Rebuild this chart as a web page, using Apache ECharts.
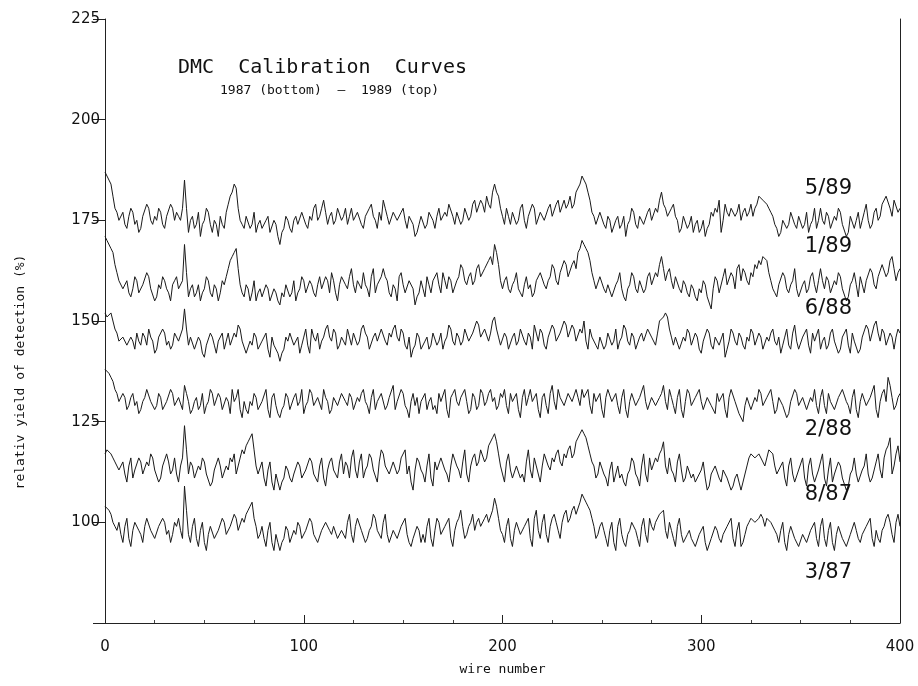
<!DOCTYPE html>
<html>
<head>
<meta charset="utf-8">
<script src="https://cdn.jsdelivr.net/npm/echarts@6/dist/echarts.min.js"></script>
<style>
html,body{margin:0;padding:0;background:#fff;}
#chart{width:918px;height:686px;}
</style>
</head>
<body>
<div id="chart"></div>
<script>
// one value per wire, wires 0..400
var yTicks = [100, 125, 150, 175, 200, 225];
var xTicks = [0, 100, 200, 300, 400];

var curveNames = ["5/89", "1/89", "6/88", "2/88", "8/87", "3/87"];
// where each curve name is written [wire, value]
var namePos = [[364, 183], [364, 168.5], [364, 153], [364, 123], [364, 107], [364, 87.5]];

var may89 = [
	187,186,185,184,181,178,177,175,175,177,174,173,176,178,177,174,175,172,173,176,176,179,178,175,174,176,175,178,177,174,173,176,176,179,178,175,177,176,175,178,
	185,178,172,175,176,173,174,177,171,174,175,178,177,174,172,175,174,171,176,174,173,177,179,181,182,184,183,178,175,174,173,176,176,173,174,177,172,174,175,173,
	173,175,176,172,172,175,174,171,169,172,173,176,175,173,172,175,176,174,174,177,177,174,173,176,175,178,179,175,176,178,180,177,174,176,177,174,175,178,178,175,
	176,178,174,176,178,175,175,177,177,174,173,176,176,178,179,176,175,173,177,175,180,178,176,174,174,177,177,175,175,177,178,175,173,176,176,174,171,172,174,176,
	176,173,174,177,177,175,173,176,178,175,175,177,176,179,179,176,174,177,177,174,175,178,178,175,176,179,180,177,177,180,179,177,181,179,178,182,184,182,181,178,
	176,174,178,176,174,177,177,174,175,178,179,175,173,176,176,179,178,174,174,177,177,175,175,178,179,176,176,179,180,177,177,180,178,179,181,178,179,182,182,184,
	186,185,184,182,180,177,176,174,174,177,177,174,173,176,175,172,172,175,176,173,174,176,171,174,175,178,177,174,173,176,176,174,174,177,178,175,175,178,177,180,
	182,179,178,176,176,178,179,176,175,172,173,176,176,173,174,176,172,174,175,172,173,175,171,173,174,177,176,178,177,180,172,175,179,177,176,178,178,176,177,179,
	175,177,178,176,177,179,176,178,179,181,181,180,180,179,178,177,176,174,173,171,172,175,175,173,174,177,177,174,173,176,176,173,174,177,172,174,175,178,173,175,
	178,175,174,177,176,173,173,176,175,178,177,174,174,171,172,176,176,173,175,177,173,175,177,179,175,173,174,177,178,175,176,179,179,181,181,178,176,180,180,177,
	178
];
var jan89 = [
	171,170,170,168,167,164,162,160,160,158,158,160,157,156,158,161,160,157,157,159,159,162,161,158,158,155,156,159,158,161,160,158,157,155,159,160,161,158,158,160,
	169,162,156,158,159,156,157,159,155,157,158,161,160,157,156,159,158,155,157,160,159,161,163,165,166,167,168,163,159,157,156,159,158,155,157,160,155,157,158,156,
	156,159,158,155,155,158,157,155,154,157,156,159,159,156,157,160,155,157,158,161,160,157,157,160,159,157,156,159,161,158,158,161,160,157,162,160,157,155,159,161,
	161,159,158,161,163,159,157,160,160,158,162,159,158,156,161,163,157,159,159,161,163,161,160,157,156,159,158,155,161,162,159,157,157,160,160,158,154,156,157,160,
	158,156,161,159,157,160,160,162,159,157,162,160,158,161,160,157,157,160,161,164,163,160,159,161,162,159,160,163,164,161,161,163,163,165,166,164,169,167,164,160,
	158,160,161,158,157,159,160,162,158,157,156,159,161,158,159,156,157,160,160,162,162,159,158,160,161,164,163,160,159,162,162,165,164,161,161,164,165,163,167,168,
	170,169,168,167,165,162,160,158,158,161,161,158,157,159,159,156,156,159,160,162,158,156,155,158,159,162,161,158,157,160,160,157,158,161,162,159,159,162,161,164,
	166,163,160,162,163,160,158,161,161,158,157,160,159,157,156,159,158,156,155,158,157,160,159,156,156,153,158,161,160,157,157,161,163,159,159,162,161,158,163,164,
	160,163,162,160,159,162,161,164,163,165,164,166,166,165,162,160,158,157,156,159,159,162,161,158,157,159,160,163,158,156,156,159,160,157,158,161,162,159,157,160,
	163,160,158,161,160,157,157,160,159,162,161,158,158,155,156,159,160,162,159,156,161,159,157,160,160,163,162,159,158,161,161,164,164,161,162,165,166,163,160,162,
	163
];
var jun88 = [
	152,151,151,152,150,148,147,145,145,146,146,144,144,146,145,143,147,145,144,147,146,144,148,146,145,142,143,146,146,148,147,144,145,143,144,147,147,145,145,148,
	153,148,144,146,146,143,143,146,145,142,141,144,144,147,146,144,142,145,145,147,143,145,147,144,144,147,146,149,148,145,145,142,142,145,144,147,146,143,143,145,
	145,147,143,141,146,144,144,142,140,142,143,146,145,147,147,144,144,146,142,144,146,148,144,142,148,146,145,147,143,145,146,148,149,146,145,148,147,143,144,146,
	146,144,148,146,144,147,147,144,145,148,149,147,146,143,143,146,147,145,145,148,148,145,144,147,146,148,149,146,145,148,147,144,143,146,141,143,144,147,146,143,
	143,145,146,143,144,147,147,144,145,147,143,145,146,149,148,145,144,147,146,144,145,148,148,145,146,147,147,150,149,146,146,148,148,145,147,150,151,148,146,144,
	144,147,146,143,143,146,147,144,145,148,148,145,144,147,146,143,149,147,145,148,147,144,143,146,146,149,148,145,145,147,147,150,149,146,146,149,148,145,145,148,
	147,150,145,143,148,146,146,144,143,146,146,143,144,147,147,144,145,148,143,145,146,149,148,145,144,147,146,143,143,146,147,145,145,148,148,146,146,144,147,150,
	150,151,152,151,148,146,144,146,146,143,143,146,145,148,147,144,144,147,146,143,142,145,145,148,147,144,143,146,146,144,144,147,141,143,145,148,147,145,144,147,
	146,144,143,146,145,148,147,144,144,147,146,143,143,146,145,147,148,145,144,146,142,144,146,148,144,143,147,149,145,143,143,146,146,148,144,142,147,145,145,148,
	143,145,146,143,144,147,148,145,145,142,143,146,146,148,144,142,147,145,145,142,143,146,146,149,148,145,147,149,150,147,145,148,147,144,144,147,146,143,146,148,
	147
];
var feb88 = [
	138,138,137,136,135,133,132,130,130,132,131,128,129,131,132,129,130,127,128,130,131,133,133,130,130,128,129,132,131,128,128,130,130,133,132,129,129,131,131,128,
	134,132,130,127,128,130,131,128,129,132,127,129,130,133,132,129,129,132,131,128,128,131,130,127,133,130,131,133,128,126,130,128,127,130,129,132,131,128,128,130,
	130,133,128,126,131,132,129,127,126,128,129,132,131,128,128,131,132,129,130,133,127,129,130,133,132,129,129,131,131,128,133,131,130,127,128,131,131,129,129,132,
	132,130,129,132,131,128,128,131,130,132,133,130,129,127,131,133,128,130,130,132,132,128,129,131,131,134,128,130,130,133,132,129,128,126,130,132,129,131,127,130,
	130,132,128,130,131,128,129,127,132,130,130,133,128,126,131,132,133,130,129,131,131,133,130,127,128,132,131,128,129,133,132,129,130,132,133,130,131,128,129,132,
	131,133,129,127,132,130,130,132,128,126,131,133,129,131,133,130,130,132,128,126,131,132,129,127,132,134,130,128,133,131,131,129,129,132,132,130,130,133,131,129,
	133,131,131,133,129,127,132,130,130,132,128,126,131,133,133,130,130,132,129,127,131,133,128,126,130,132,132,129,129,131,131,134,130,128,128,131,131,129,129,131,
	132,134,130,128,133,131,129,127,131,133,128,126,130,133,132,129,129,131,131,133,130,128,128,131,131,129,129,127,132,130,130,132,128,126,131,133,133,130,130,127,
	127,125,129,131,131,128,128,131,130,133,132,129,129,131,131,133,130,127,128,131,131,129,129,126,127,130,130,133,132,129,129,131,131,128,128,131,130,133,129,127,
	131,133,129,127,132,130,130,128,128,131,131,133,133,130,129,127,131,133,128,126,130,132,132,129,129,131,131,134,128,126,130,132,133,130,136,134,131,128,129,131,
	132
];
var aug87 = [
	117,118,118,117,116,115,114,113,113,115,112,110,114,116,111,113,113,116,115,112,112,115,114,117,116,113,113,110,111,114,114,117,115,112,113,116,112,110,114,116,
	124,118,112,115,114,111,111,114,113,116,115,112,112,109,110,113,113,116,114,111,111,114,113,116,115,117,112,114,114,118,117,119,120,121,122,118,114,112,112,115,
	111,109,113,115,110,108,112,110,108,110,111,114,113,111,110,112,112,115,114,111,111,113,113,116,115,112,112,110,114,116,111,109,113,115,116,113,113,111,115,117,
	112,115,114,111,116,118,113,111,115,117,111,113,114,117,116,113,113,110,115,118,117,114,114,112,112,115,115,112,113,116,116,118,112,114,110,108,113,116,115,113,
	112,110,114,117,111,109,115,113,113,116,116,113,112,110,114,117,117,114,113,111,115,118,112,110,114,116,117,114,115,118,118,115,116,119,119,121,122,120,117,114,
	112,110,115,117,113,111,111,114,114,111,112,110,115,118,113,111,116,114,112,110,114,117,117,114,113,116,115,117,118,115,114,117,116,118,119,116,117,120,120,122,
	123,122,121,119,117,115,114,111,112,115,115,112,111,109,113,115,110,112,114,111,112,110,109,112,113,116,115,112,111,109,114,117,112,110,116,113,113,116,115,117,
	118,120,114,112,116,113,112,110,115,117,113,110,111,114,114,111,112,110,110,112,113,115,111,108,109,112,112,114,114,111,110,113,113,111,111,108,109,111,112,110,
	108,110,112,114,116,117,117,116,116,117,117,115,114,116,118,118,117,114,112,113,113,115,111,109,114,116,112,110,110,113,113,116,111,109,114,116,112,110,110,113,
	115,117,111,109,113,116,110,112,112,115,114,111,111,108,109,112,113,116,112,110,110,113,114,117,112,110,111,113,115,117,113,111,116,118,119,121,112,114,117,119,
	115
];
var mar87 = [
	104,104,103,102,100,99,98,100,97,95,99,101,96,94,98,100,100,98,97,95,99,101,101,98,98,96,96,99,99,101,100,97,98,95,97,100,99,101,98,96,
	109,103,97,95,99,101,96,94,98,100,95,93,97,99,99,96,96,98,98,101,100,97,97,99,99,102,101,98,98,101,100,102,103,104,105,101,99,96,97,99,
	96,94,98,100,95,93,97,95,93,95,96,99,98,95,95,98,97,100,99,96,96,98,98,101,100,97,97,95,95,98,98,100,100,98,97,99,99,96,96,98,
	98,96,100,102,97,95,99,101,101,98,98,95,96,98,99,102,101,98,98,96,100,102,97,95,95,98,98,96,96,99,99,101,97,95,94,96,96,99,98,95,
	97,95,99,101,96,94,98,101,100,97,97,99,99,101,96,94,98,100,101,103,99,96,97,99,100,102,98,100,101,99,99,101,102,100,100,103,106,104,101,98,
	97,95,99,101,96,94,98,100,100,97,97,99,99,101,96,94,101,103,98,96,100,102,97,95,99,101,102,100,98,96,100,102,103,100,101,103,104,102,102,105,
	107,106,105,104,103,101,99,96,97,99,100,98,96,94,98,100,95,93,99,101,97,95,94,97,98,100,100,98,96,94,99,101,97,95,101,99,98,100,100,102,
	102,103,98,96,100,98,96,94,99,101,97,95,95,97,98,96,96,94,94,97,97,99,95,93,93,96,96,99,98,96,95,97,97,99,99,101,96,94,98,100,
	94,95,97,99,100,101,101,100,100,101,102,101,99,101,101,100,100,98,97,95,98,100,95,93,97,99,99,96,96,94,94,97,97,95,95,98,98,100,96,94,
	99,101,96,94,98,100,95,93,97,99,99,96,96,94,94,97,97,100,98,96,95,97,97,99,99,101,96,94,98,96,95,98,99,101,102,100,97,95,100,102,
	99
];

var curves = [may89, jan89, jun88, feb88, aug87, mar87];

var myChart = echarts.init(document.getElementById('chart'));

var series = [];
for(var i = 0; i < curves.length; i++){
	var pts = [];
	for(var j = 0; j < curves[i].length; j++){
		pts.push([j, curves[i][j]]);
	}
	series.push({
		name: curveNames[i],
		type: "line",
		data: pts,
		symbol: "none",
		animation: false,
		lineStyle: {color: "#1a1a1a", width: 1},
		markPoint: {
			symbol: "circle",
			symbolSize: 0,
			label: {show: true, formatter: curveNames[i], color: "#111",
				fontFamily: "DejaVu Sans", fontSize: 21},
			data: [{coord: namePos[i]}]
		}
	});
}

var option = {
	backgroundColor: "#fff",
	animation: false,
	grid: {left: 105, right: 18, top: 19, bottom: 63},
	xAxis: {
		type: "value", min: 0, max: 400, interval: 100,
		name: "wire number", nameLocation: "middle", nameGap: 40,
		nameTextStyle: {fontFamily: "DejaVu Sans Mono", fontSize: 13, color: "#111"},
		axisLine: {lineStyle: {color: "#222", width: 1}},
		axisTick: {inside: true, length: 8, lineStyle: {color: "#222"}},
		minorTick: {show: true, splitNumber: 4, length: 3, lineStyle: {color: "#444"}},
		axisLabel: {fontFamily: "DejaVu Sans", fontSize: 15, color: "#111", margin: 17,
			formatter: function(v){ return xTicks.indexOf(v) >= 0 ? String(v) : ""; }},
		splitLine: {show: false}
	},
	yAxis: [{
		type: "value", min: 75, max: 225, interval: 25,
		axisLine: {show: true, lineStyle: {color: "#222", width: 1}},
		axisTick: {show: true, length: 12, lineStyle: {color: "#222"}},
		axisLabel: {fontFamily: "DejaVu Sans", fontSize: 15, color: "#111", margin: 5,
			formatter: function(v){ return yTicks.indexOf(v) >= 0 ? String(v) : ""; }},
		splitLine: {show: false}
	}, {
		type: "value", min: 75, max: 225, position: "right",
		axisLine: {show: true, lineStyle: {color: "#222", width: 1}},
		axisTick: {show: false}, axisLabel: {show: false}, splitLine: {show: false}
	}],
	graphic: [
		{type: "text", left: 178, top: 58,
			style: {text: "DMC  Calibration  Curves", fontFamily: "DejaVu Sans Mono", fontSize: 20, fill: "#111"}},
		{type: "text", left: 220, top: 84,
			style: {text: "1987 (bottom)  –  1989 (top)", fontFamily: "DejaVu Sans Mono", fontSize: 13, fill: "#111"}},
		{type: "text", x: 21, y: 372, rotation: Math.PI / 2, originX: 0, originY: 0,
			style: {text: "relativ yield of detection (%)", fontFamily: "DejaVu Sans Mono", fontSize: 13,
				fill: "#111", align: "center", verticalAlign: "middle"}}
	],
	series: series
};
myChart.setOption(option);
</script>
</body>
</html>
